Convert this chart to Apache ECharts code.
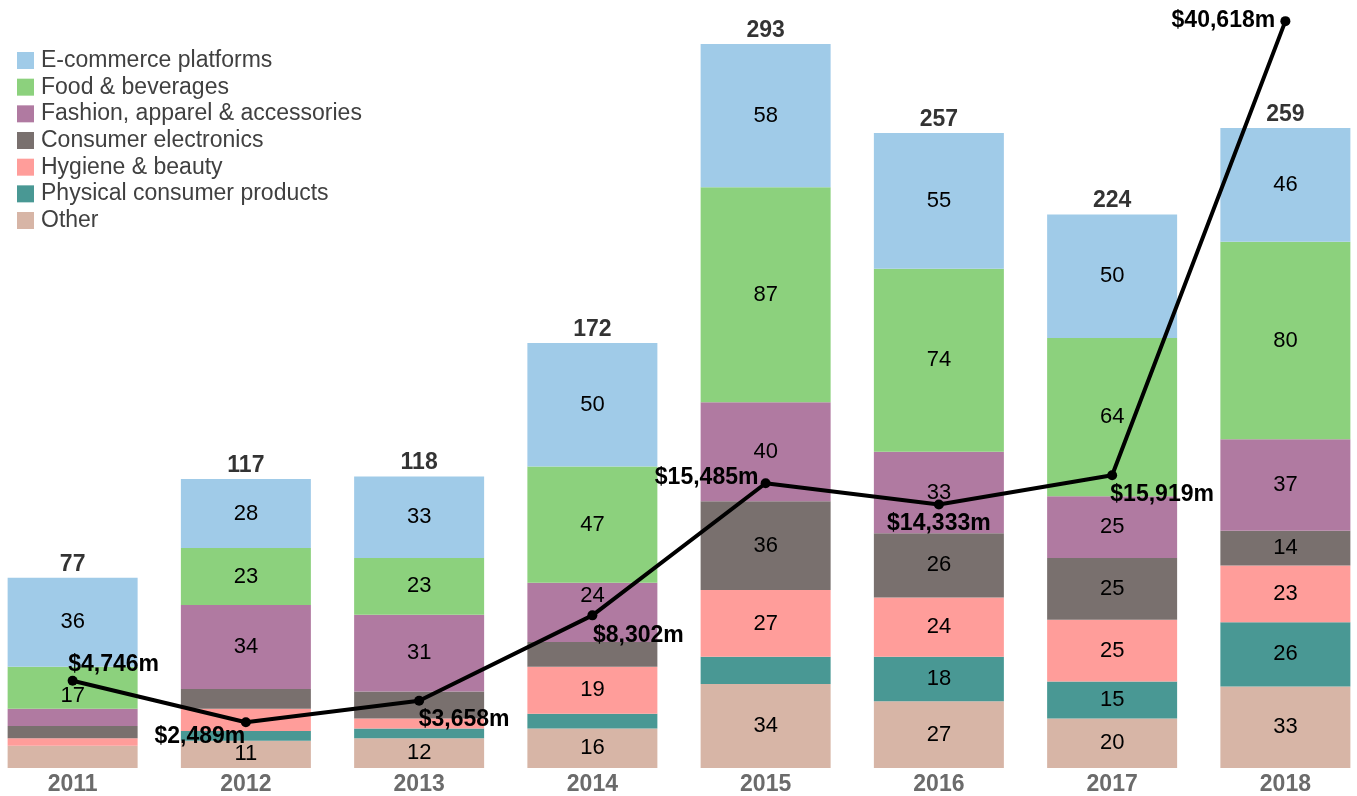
<!DOCTYPE html>
<html>
<head>
<meta charset="utf-8">
<script src="https://cdn.jsdelivr.net/npm/echarts@6/dist/echarts.min.js"></script>
<style>
  html, body { margin: 0; padding: 0; background: #fff; overflow: hidden; width: 1357px; height: 796px; }
  /* the plot bands run slightly past both window edges */
  #chart { position: absolute; left: -14px; top: 0; width: 1386px; height: 796px; }
</style>
</head>
<body>
<div id="chart"></div>
<script>
// Years on the category axis
const years = ['2011', '2012', '2013', '2014', '2015', '2016', '2017', '2018'];

// Deal counts per sector (stacked bottom to top: Other ... E-commerce)
const other       = [9, 11, 12, 16, 34, 27, 20, 33];
const physical    = [0, 4, 4, 6, 11, 18, 15, 26];
const hygiene     = [3, 9, 4, 19, 27, 24, 25, 23];
const electronics = [5, 8, 11, 10, 36, 26, 25, 14];
const fashion     = [7, 34, 31, 24, 40, 33, 25, 37];
const food        = [17, 23, 23, 47, 87, 74, 64, 80];
const ecommerce   = [36, 28, 33, 50, 58, 55, 50, 46];

// Total deal value per year, $m
const dealValue = [4746, 2489, 3658, 8302, 15485, 14333, 15919, 40618];

const sectorNames = [
  'Other', 'Physical consumer products', 'Hygiene & beauty', 'Consumer electronics',
  'Fashion, apparel & accessories', 'Food & beverages', 'E-commerce platforms'
];
const sectorValues = [other, physical, hygiene, electronics, fashion, food, ecommerce];
const sectorColors = ['#D7B5A6', '#499894', '#FF9D9A', '#79706E', '#B07AA1', '#8CD17D', '#A0CBE8'];

// Small segments stay unlabelled; a few are labelled anyway
const labelMin = 12;
const extraLabels = [['Other', '2012']];
// Segment labels nudged clear of the value line
const labelShifts = [
  ['Food & beverages', '2011', [0, 8]],
  ['Fashion, apparel & accessories', '2014', [0, -16]]
];

// Offsets of the $m labels from their points
const valueLabelOffsets = [[41, -16], [-46, 14], [45, 19], [46, 20], [-59, -6], [0, 19], [50, 19], [-62, -1]];

const totals = years.map((_, i) => sectorValues.reduce((s, arr) => s + arr[i], 0));

const FONT = '"Liberation Sans", Arial, sans-serif';

const barSeries = sectorNames.map((name, si) => ({
  name,
  type: 'bar',
  stack: 'deals',
  barWidth: 130,
  itemStyle: { color: sectorColors[si] },
  data: sectorValues[si].map((v, i) => {
    const forced = extraLabels.some(([n, y]) => n === name && y === years[i]);
    const shift = labelShifts.find(([n, y]) => n === name && y === years[i]);
    const label = { show: v >= labelMin || forced };
    if (shift) label.offset = shift[2];
    return { value: v, label };
  }),
  label: {
    position: 'inside',
    color: '#000',
    fontFamily: FONT,
    fontSize: 22
  },
  emphasis: { disabled: true }
}));

const chart = echarts.init(document.getElementById('chart'), null, { renderer: 'canvas' });

chart.setOption({
  animation: false,
  backgroundColor: '#fff',
  grid: { left: 0, right: 0, top: 2, bottom: 27, containLabel: false },
  legend: {
    orient: 'vertical',
    left: 26,
    top: 44,
    itemWidth: 17,
    itemHeight: 17,
    itemGap: 3.67,
    icon: 'rect',
    data: sectorNames.slice().reverse(),
    textStyle: { fontFamily: FONT, fontSize: 23, color: '#404040', padding: [0, 0, 0, 2] }
  },
  xAxis: {
    type: 'category',
    data: years,
    axisLine: { show: false },
    axisTick: { show: false },
    axisLabel: {
      fontFamily: FONT,
      fontSize: 23,
      fontWeight: 'bold',
      color: '#6b6b6b',
      margin: 5
    }
  },
  yAxis: [
    { type: 'value', min: 0, max: 310, show: false, splitLine: { show: false } },
    { type: 'value', min: 0, max: 41660, show: false, splitLine: { show: false } }
  ],
  series: [
    ...barSeries,
    {
      name: 'Total',
      type: 'scatter',
      data: totals,
      symbolSize: 0,
      label: {
        show: true,
        position: 'top',
        distance: 2,
        color: '#000',
        fontFamily: FONT,
        fontSize: 23,
        fontWeight: 'bold'
      },
      silent: true,
      z: 5
    },
    {
      name: 'Deal value',
      type: 'line',
      yAxisIndex: 1,
      clip: false,
      symbol: 'circle',
      symbolSize: 10,
      lineStyle: { color: '#000', width: 4 },
      itemStyle: { color: '#000' },
      data: dealValue.map((v, i) => ({
        value: v,
        label: { offset: valueLabelOffsets[i] }
      })),
      label: {
        show: true,
        position: 'inside',
        color: '#000',
        fontFamily: FONT,
        fontSize: 23,
        fontWeight: 'bold',
        formatter: p => '$' + p.value.toLocaleString('en-US') + 'm'
      },
      z: 10
    }
  ]
});
</script>
</body>
</html>
